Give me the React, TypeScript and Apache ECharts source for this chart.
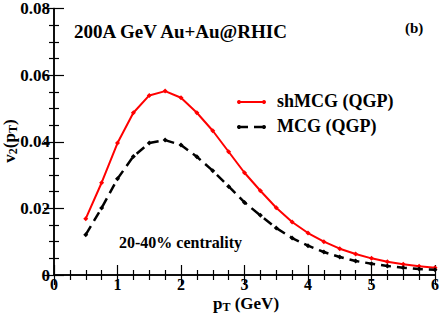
import React, { useEffect, useRef } from "react";
import * as echarts from "echarts";

const pT = [0.5, 0.75, 1.0, 1.25, 1.5, 1.75, 2.0, 2.25, 2.5, 2.75, 3.0, 3.25, 3.5, 3.75, 4.0, 4.25, 4.5, 4.75, 5.0, 5.25, 5.5, 5.75, 6.0];
const shMCG = [0.0169, 0.0277, 0.0396, 0.0487, 0.0539, 0.0552, 0.0532, 0.0487, 0.0433, 0.0370, 0.0307, 0.0253, 0.0202, 0.0159, 0.0126, 0.0100, 0.0079, 0.0063, 0.0050, 0.0040, 0.0032, 0.0026, 0.0022];
const MCG = [0.0121, 0.0201, 0.0289, 0.0356, 0.0396, 0.0405, 0.0390, 0.0355, 0.0313, 0.0266, 0.0218, 0.0179, 0.0141, 0.0111, 0.0088, 0.0069, 0.0054, 0.0042, 0.0034, 0.0027, 0.0022, 0.0018, 0.0016];
const seriesNames = ["shMCG (QGP)", "MCG (QGP)"];
const xTicks = [0, 1, 2, 3, 4, 5, 6];
const yTicks = [0, 0.02, 0.04, 0.06, 0.08];

const FONT = "Liberation Serif";

export default function App() {
  const ref = useRef<HTMLDivElement>(null);
  useEffect(() => {
    if (!ref.current) return;
    const chart = echarts.init(ref.current, null, { renderer: "svg" });
    const axisLine = { show: true, lineStyle: { color: "#000", width: 1.5 } };
    const tick = { show: true, inside: true, length: 10, lineStyle: { color: "#000", width: 1.2 } };
    const minor = { show: true, splitNumber: 4, length: 5, lineStyle: { color: "#000", width: 1.2 } };
    const labelStyle = { color: "#000", fontFamily: FONT, fontWeight: "bold" as const, fontSize: 17 };
    const xBase = { type: "value" as const, min: xTicks[0], max: xTicks[xTicks.length - 1], interval: 1, splitLine: { show: false }, axisLine, axisTick: tick, minorTick: minor };
    const yBase = { type: "value" as const, min: yTicks[0], max: yTicks[yTicks.length - 1], interval: 0.02, splitLine: { show: false }, axisLine, axisTick: tick, minorTick: minor };
    const richTitle = {
      n: { fontFamily: FONT, fontWeight: "bold", fontSize: 17, fill: "#000", lineHeight: 18, verticalAlign: "top" },
      s: { fontFamily: FONT, fontWeight: "bold", fontSize: 12, fill: "#000", lineHeight: 18, verticalAlign: "bottom", padding: [8, 0, 0, 0] },
    };
    chart.setOption({
      animation: false,
      backgroundColor: "#fff",
      grid: { left: 54, right: 5, top: 7, bottom: 38 },
      xAxis: [
        { ...xBase, position: "bottom", axisLabel: { ...labelStyle, fontSize: 16, lineHeight: 13, margin: 3, formatter: (v: number) => String(v) } },
        { ...xBase, position: "top", axisLabel: { show: false } },
      ],
      yAxis: [
        { ...yBase, position: "left", axisLabel: { ...labelStyle, margin: 4, formatter: (v: number) => (v === 0 ? "0" : v.toFixed(2)) } },
        { ...yBase, position: "right", axisLabel: { show: false } },
      ],
      series: [
        {
          name: seriesNames[0],
          type: "line",
          data: pT.map((x, i) => [x, shMCG[i]]),
          lineStyle: { color: "#ff0000", width: 2 },
          itemStyle: { color: "#ff0000" },
          symbol: "diamond",
          symbolSize: 5,
        },
        {
          name: seriesNames[1],
          type: "line",
          data: pT.map((x, i) => [x, MCG[i]]),
          lineStyle: { color: "#000", width: 2.5, type: [10, 6] },
          itemStyle: { color: "#000" },
          symbol: "diamond",
          symbolSize: 5,
        },
      ],
      graphic: [
        { type: "text", left: 74, top: 22, style: { text: "200A GeV Au+Au@RHIC", fontFamily: FONT, fontWeight: "bold", fontSize: 19, fill: "#000" } },
        { type: "text", left: 405, top: 20, style: { text: "(b)", fontFamily: FONT, fontWeight: "bold", fontSize: 15, fill: "#000" } },
        { type: "text", left: 119, top: 234, style: { text: "20-40% centrality", fontFamily: FONT, fontWeight: "bold", fontSize: 16, fill: "#000" } },
        // legend
        { type: "line", shape: { x1: 239, y1: 102, x2: 264, y2: 102 }, style: { stroke: "#ff0000", lineWidth: 2 } },
        { type: "circle", shape: { cx: 239, cy: 102, r: 2 }, style: { fill: "#ff0000" } },
        { type: "circle", shape: { cx: 264, cy: 102, r: 2 }, style: { fill: "#ff0000" } },
        { type: "text", left: 277, top: 92, style: { text: seriesNames[0], fontFamily: FONT, fontWeight: "bold", fontSize: 18, fill: "#000" } },
        { type: "line", shape: { x1: 239, y1: 127, x2: 264, y2: 127 }, style: { stroke: "#000", lineWidth: 2.5, lineDash: [9, 6] } },
        { type: "circle", shape: { cx: 239, cy: 127, r: 2 }, style: { fill: "#000" } },
        { type: "circle", shape: { cx: 264, cy: 127, r: 2 }, style: { fill: "#000" } },
        { type: "text", left: 277, top: 117, style: { text: seriesNames[1], fontFamily: FONT, fontWeight: "bold", fontSize: 18, fill: "#000" } },
        // axis titles
        {
          type: "text",
          x: 246,
          y: 304,
          style: { text: "{n|p}{s|T}{n| (GeV)}", align: "center", verticalAlign: "middle", rich: richTitle },
        },
        {
          type: "text",
          x: 10,
          y: 141,
          rotation: Math.PI / 2,
          style: { text: "{n|v}{s|2}{n|(p}{s|T}{n|)}", align: "center", verticalAlign: "middle", rich: richTitle },
        },
      ],
    });
    return () => chart.dispose();
  }, []);
  return <div ref={ref} style={{ width: 442, height: 313, position: "absolute", left: 0, top: 0 }} />;
}
